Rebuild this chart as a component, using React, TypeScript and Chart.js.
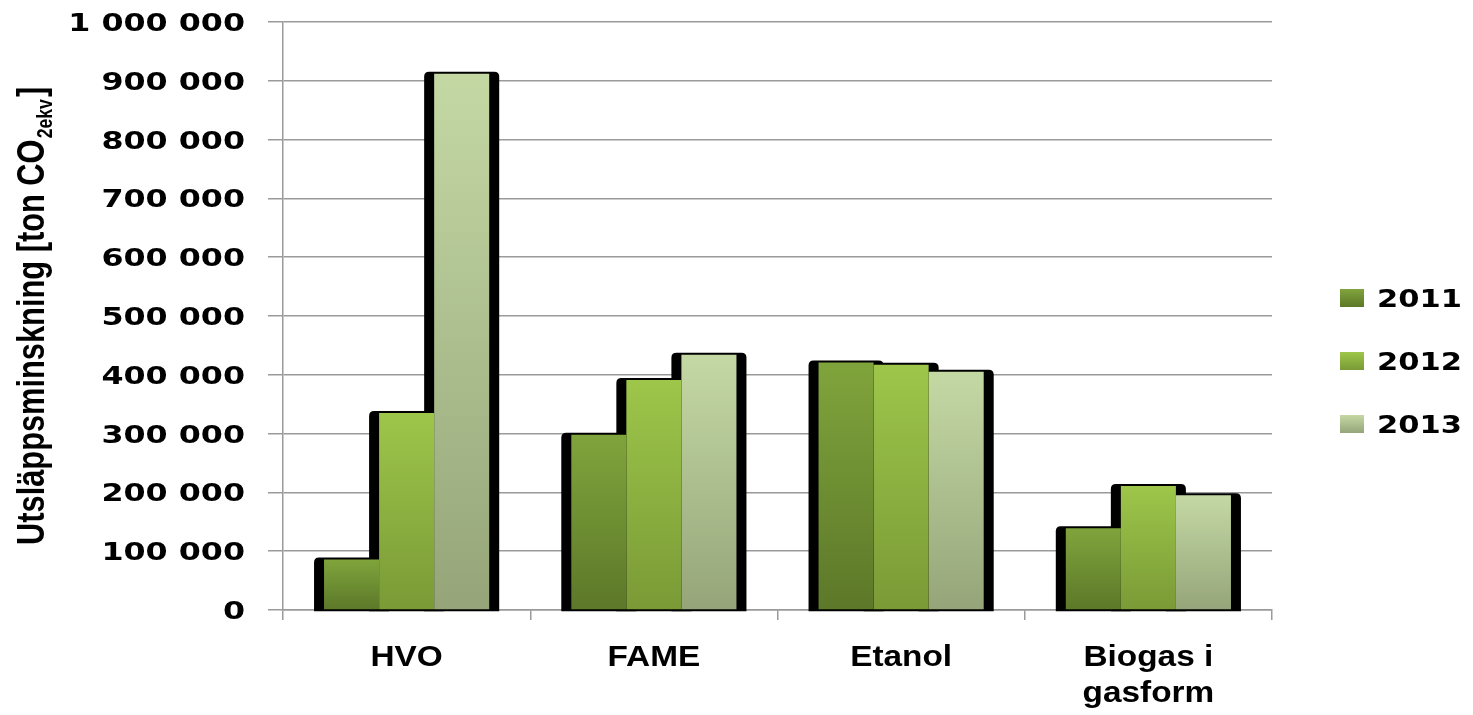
import React, { useEffect, useRef } from 'react';
import { Chart, registerables } from 'chart.js';

Chart.register(...registerables);

const categories: string[][] = [['HVO'], ['FAME'], ['Etanol'], ['Biogas i', 'gasform']];
const seriesLabels = ['2011', '2012', '2013'];
const values2011 = [86000, 298000, 421000, 139000];
const values2012 = [335000, 391000, 417000, 211000];
const values2013 = [912000, 434000, 405000, 195000];
const yTickValues = [0, 100000, 200000, 300000, 400000, 500000, 600000, 700000, 800000, 900000, 1000000];
const yTickLabels = ['0', '100 000', '200 000', '300 000', '400 000', '500 000', '600 000', '700 000', '800 000', '900 000', '1 000 000'];
const axisTitleMain = 'Utsläppsminskning [ton CO';
const axisTitleSub = '2ekv';
const axisTitleEnd = ']';

const topColors = ['#80a43c', '#9dc64a', '#c4d8a4'];
const bottomColors = ['#5c7829', '#7a9a36', '#95a579'];
const gridColor = '#9a9a9a';

function stretchedText(c: CanvasRenderingContext2D, text: string, x: number, y: number, sx: number, align: CanvasTextAlign) {
  c.save();
  c.translate(x, y);
  c.scale(sx, 1);
  c.textAlign = align;
  c.fillText(text, 0, 0);
  c.restore();
}

function barGradient(i: number) {
  return (ctx: any) => {
    const chart = ctx.chart;
    if (!chart.chartArea || ctx.type !== 'data' || !chart.scales.y) return topColors[i];
    const ys = chart.scales.y;
    const top = ys.getPixelForValue(ctx.raw as number);
    const bottom = ys.getPixelForValue(0);
    if (!isFinite(top) || !isFinite(bottom) || top === bottom) return topColors[i];
    const g = chart.ctx.createLinearGradient(0, top, 0, bottom);
    g.addColorStop(0, topColors[i]);
    g.addColorStop(1, bottomColors[i]);
    return g;
  };
}

const shadowPlugin = {
  id: 'barShadow',
  beforeDatasetsDraw(chart: any) {
    const c: CanvasRenderingContext2D = chart.ctx;
    c.save();
    c.fillStyle = '#000';
    chart.data.datasets.forEach((_ds: any, di: number) => {
      const meta = chart.getDatasetMeta(di);
      meta.data.forEach((bar: any) => {
        const { x, y, base, width } = bar.getProps(['x', 'y', 'base', 'width'], true);
        const l = x - width / 2 - 10;
        const r = x + width / 2 + 10;
        const t = y - 2;
        const b = base + 2;
        const rad = 5;
        c.beginPath();
        c.moveTo(l, b);
        c.lineTo(l, t + rad);
        c.quadraticCurveTo(l, t, l + rad, t);
        c.lineTo(r - rad, t);
        c.quadraticCurveTo(r, t, r, t + rad);
        c.lineTo(r, b);
        c.closePath();
        c.fill();
      });
    });
    c.restore();
  },
};

const textPlugin = {
  id: 'texts',
  afterDraw(chart: any) {
    const c: CanvasRenderingContext2D = chart.ctx;
    const ys = chart.scales.y;
    const xs = chart.scales.x;
    const area = chart.chartArea;
    c.save();
    c.fillStyle = '#000';

    // y tick labels
    c.font = 'bold 25px "DejaVu Sans"';
    c.textBaseline = 'alphabetic';
    yTickValues.forEach((v, i) => {
      const py = ys.getPixelForValue(v);
      stretchedText(c, yTickLabels[i], area.left - 38, py + 9, 1.27, 'right');
    });

    // category labels
    c.font = 'bold 29px "Liberation Sans"';
    categories.forEach((lines, i) => {
      const px = xs.getPixelForValue(i);
      lines.forEach((line, li) => {
        stretchedText(c, line, px, area.bottom + 56 + li * 36, 1.15, 'center');
      });
    });

    // legend
    seriesLabels.forEach((lab, i) => {
      const cy = 298 + i * 63;
      const sx0 = area.right + 68;
      const g = c.createLinearGradient(0, cy - 9, 0, cy + 9);
      g.addColorStop(0, topColors[i]);
      g.addColorStop(1, bottomColors[i]);
      c.fillStyle = g;
      c.fillRect(sx0, cy - 9, 24, 18);
      c.fillStyle = '#000';
      c.font = 'bold 25px "DejaVu Sans"';
      stretchedText(c, lab, sx0 + 37, cy + 9, 1.22, 'left');
    });

    // y axis title
    c.save();
    c.translate(44, 545);
    c.rotate(-Math.PI / 2);
    c.scale(1.1, 1.4);
    c.textAlign = 'left';
    c.font = 'bold 28px "Liberation Sans"';
    c.fillText(axisTitleMain, 0, 0);
    const w1 = c.measureText(axisTitleMain).width;
    c.font = 'bold 16px "Liberation Sans"';
    c.fillText(axisTitleSub, w1 + 1, 6);
    const w2 = c.measureText(axisTitleSub).width;
    c.font = 'bold 28px "Liberation Sans"';
    c.fillText(axisTitleEnd, w1 + w2 + 3, 0);
    c.restore();

    c.restore();
  },
};

export default function App() {
  const ref = useRef<HTMLCanvasElement | null>(null);
  useEffect(() => {
    if (!ref.current) return;
    const values = [values2011, values2012, values2013];
    const chart = new Chart(ref.current, {
      type: 'bar',
      data: {
        labels: categories.map((c) => c.join(' ')),
        datasets: seriesLabels.map((lab, i) => ({
          label: lab,
          data: values[i],
          backgroundColor: barGradient(i),
          borderWidth: 0,
          barPercentage: 1,
          categoryPercentage: 0.668,
        })),
      },
      options: {
        responsive: false,
        animation: false,
        devicePixelRatio: 1,
        layout: { padding: { left: 268, right: 201, top: 22, bottom: 95 } },
        plugins: {
          legend: { display: false },
          tooltip: { enabled: false },
          title: { display: false },
        },
        scales: {
          x: {
            offset: true,
            ticks: { display: false },
            grid: { drawOnChartArea: false, drawTicks: true, tickLength: 10, color: gridColor, lineWidth: 1.5, offset: true },
            border: { display: true, color: gridColor, width: 1.5 },
            afterFit: (s: any) => { s.height = 10; },
          },
          y: {
            min: 0,
            max: 1000000,
            afterBuildTicks: (s: any) => { s.ticks = yTickValues.map((v) => ({ value: v })); },
            ticks: { display: false },
            grid: { color: gridColor, lineWidth: 1.5, drawTicks: true, tickLength: 15 },
            border: { display: true, color: gridColor, width: 1.5 },
            afterFit: (s: any) => { s.width = 15; },
          },
        },
      } as any,
      plugins: [shadowPlugin, textPlugin],
    });
    return () => chart.destroy();
  }, []);
  return (
    <div style={{ position: 'absolute', left: 0, top: 0, width: 1473, height: 715 }}>
      <canvas ref={ref} width={1473} height={715} style={{ display: 'block', width: 1473, height: 715 }} />
    </div>
  );
}
